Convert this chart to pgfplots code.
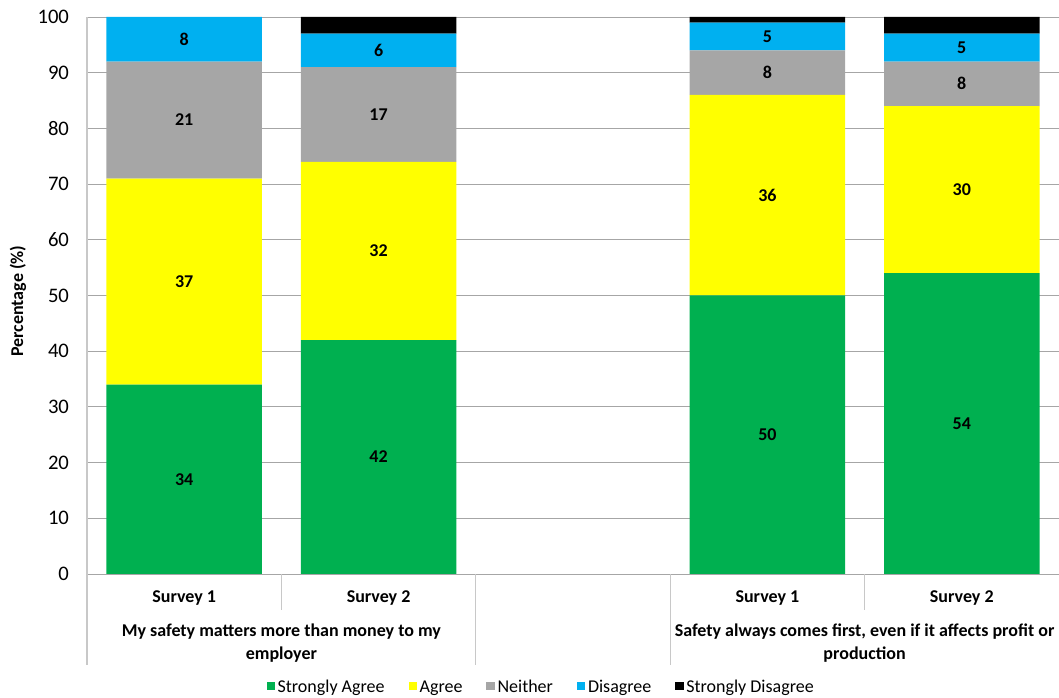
\documentclass[border=0pt]{standalone}
\usepackage{pgfplots}
\pgfplotsset{compat=1.18}
\usepackage{fontspec}
\setmainfont{Carlito}
\definecolor{csa}{HTML}{00B050}
\definecolor{ca}{HTML}{FFFF00}
\definecolor{cn}{HTML}{A6A6A6}
\definecolor{cd}{HTML}{00B0F0}
\definecolor{csd}{HTML}{000000}
\definecolor{gridc}{HTML}{A6A6A6}
\definecolor{axc}{HTML}{C8C8C8}
\begin{document}
\begin{tikzpicture}[font=\fontsize{13.5}{16}\selectfont]
\begin{axis}[
  at={(0,0)}, anchor=south west,
  scale only axis, width=729pt, height=417.75pt,
  ybar stacked, bar width=0.8,
  xmin=-0.5, xmax=4.5, ymin=0, ymax=100,
  ytick={0,10,...,100},
  xtick={0,1,3,4},
  xticklabels={Survey 1,Survey 2,Survey 1,Survey 2},
  x tick label style={font=\bfseries\fontsize{13.5}{16}\selectfont, anchor=center, yshift=-18pt},
  y tick label style={anchor=east, xshift=-10pt, font=\fontsize{15.5}{18}\selectfont},
  /pgf/number format/assume math mode=true,
  major tick length=0pt,
  ymajorgrids, grid style={draw=gridc, line width=0.6pt},
  axis lines*=left,
  x axis line style={draw=gridc, line width=0.6pt, -},
  y axis line style={draw=axc, line width=1.5pt, -},
  ylabel={\textbf{Percentage (\%)}},
  ylabel style={at={(axis description cs:-0.071,0.49)}, anchor=center, font=\fontsize{13.5}{16}\selectfont},
  clip=false,
  every node near coord/.append style={font=\bfseries\fontsize{13.5}{16}\selectfont, anchor=center},
  legend style={at={(0.4676,-0.2047)}, anchor=center, draw=none, legend columns=5,
    /tikz/every even column/.append style={column sep=16pt},
    nodes={text height=9pt, text depth=3pt},
    font=\fontsize{13.5}{16}\selectfont},
  legend image code/.code={\fill[#1] (0pt,-1.8pt) rectangle (6.3pt,4.5pt);},
]
\addplot[fill=csa, draw=none, nodes near coords] coordinates {(0,34) (1,42) (3,50) (4,54)};
\addplot[fill=ca, draw=none, nodes near coords] coordinates {(0,37) (1,32) (3,36) (4,30)};
\addplot[fill=cn, draw=none, nodes near coords] coordinates {(0,21) (1,17) (3,8) (4,8)};
\addplot[fill=cd, draw=none, nodes near coords] coordinates {(0,8) (1,6) (3,5) (4,5)};
\addplot[fill=csd, draw=none] coordinates {(0,0) (1,3) (3,1) (4,3)};
\legend{Strongly Agree,Agree,Neither,Disagree,Strongly Disagree}
\draw[axc, line width=1.5pt] (axis cs:-0.5,0) -- ([yshift=-68.25pt]axis cs:-0.5,0);
\draw[axc, line width=0.6pt] (axis cs:0.5,0) -- ([yshift=-27pt]axis cs:0.5,0);
\draw[axc, line width=0.6pt] (axis cs:1.5,0) -- ([yshift=-68.25pt]axis cs:1.5,0);
\draw[axc, line width=0.6pt] (axis cs:2.5,0) -- ([yshift=-68.25pt]axis cs:2.5,0);
\draw[axc, line width=0.6pt] (axis cs:3.5,0) -- ([yshift=-27pt]axis cs:3.5,0);
\node[font=\bfseries\fontsize{13.5}{17}\selectfont, align=center] at ([yshift=-51.75pt]axis cs:0.5,0) {My safety matters more than money to my\\employer};
\node[font=\bfseries\fontsize{13.5}{17}\selectfont, align=center] at ([yshift=-51.75pt]axis cs:3.5,0) {Safety always comes first, even if it affects profit or\\production};
\end{axis}
\pgfresetboundingbox
\path (-65.25pt,-93pt) rectangle (729pt,430.5pt);
\end{tikzpicture}
\end{document}
